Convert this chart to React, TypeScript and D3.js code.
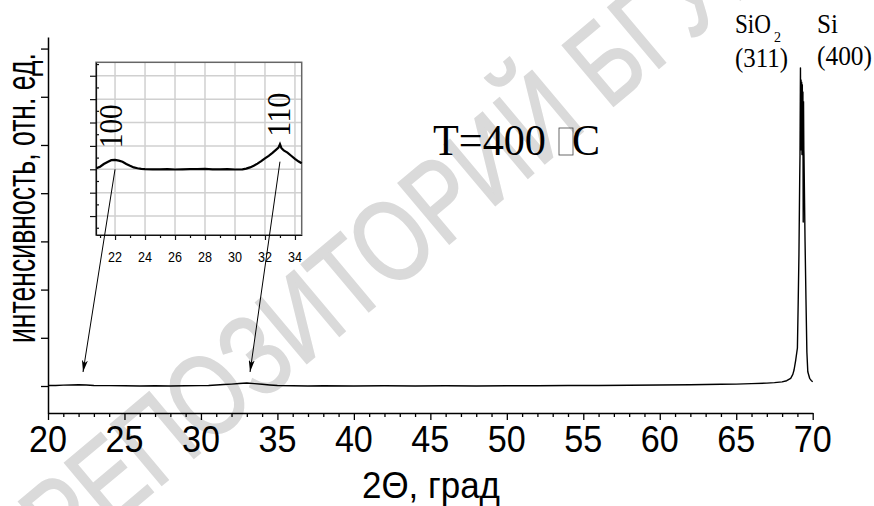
import React, { useEffect, useRef } from 'react';
import * as d3 from 'd3';

// XRD scan, 2θ (deg) vs counts
const scanAngles = [20, 20.5, 21, 21.5, 22, 22.5, 23, 24, 25, 26, 27, 28, 29, 30, 30.5, 31, 31.5, 32, 32.5, 33, 33.5, 34, 34.5, 35, 36, 37, 38, 40, 42, 44, 46, 48, 50, 52, 54, 56, 58, 60, 62, 64, 65, 66, 67, 67.5, 68, 68.3, 68.56, 68.7, 68.78, 68.89, 69.0, 69.05, 69.1, 69.15, 69.17, 69.2, 69.22, 69.24, 69.26, 69.28, 69.3, 69.32, 69.34, 69.36, 69.37, 69.38, 69.4, 69.42, 69.43, 69.5, 69.56, 69.62, 69.68, 69.8, 69.9, 70.0];
const scanCounts = [10, 12, 18, 22, 25, 20, 12, 8, 5, 0, 5, 0, 5, 8, 12, 20, 30, 40, 52, 62, 50, 35, 22, 12, 5, 0, 5, 0, 5, 0, 5, 0, 5, 5, 10, 10, 15, 20, 25, 35, 40, 50, 60, 70, 85, 110, 160, 240, 332, 539, 788, 1700, 2718, 4300, 4793, 6600, 4900, 6350, 5000, 6300, 4800, 6250, 5100, 6100, 4700, 3400, 5900, 4900, 4790, 3000, 1800, 700, 297, 160, 115, 89];

// inset: zoom of 21..34.5
const insetAngles = [20.75, 21, 21.25, 21.5, 21.75, 22, 22.25, 22.5, 22.75, 23, 23.25, 23.5, 23.75, 24, 24.5, 25, 25.5, 26, 26.5, 27, 27.5, 28, 28.5, 29, 29.5, 30, 30.5, 30.75, 31, 31.25, 31.5, 31.75, 32, 32.25, 32.5, 32.75, 32.9, 33, 33.1, 33.25, 33.5, 33.75, 34, 34.25, 34.45];
const insetCounts = [80.8, 82.2, 84.5, 86.3, 87.8, 88.0, 87.4, 86.5, 84.6, 83.0, 81.6, 80.9, 80.4, 80.2, 80.0, 79.9, 80.1, 79.8, 80.0, 80.2, 80.1, 80.3, 80.0, 79.9, 80.1, 79.8, 80.0, 80.6, 81.6, 83.0, 84.8, 87.0, 89.4, 91.5, 94.0, 96.8, 98.5, 101.4, 98.0, 96.2, 94.3, 91.6, 89.0, 86.6, 85.1];

const xTicks = [20, 25, 30, 35, 40, 45, 50, 55, 60, 65, 70];
const yTicks = [0, 1000, 2000, 3000, 4000, 5000, 6000, 7000];
const insetXTicks = [22, 24, 26, 28, 30, 32, 34];
const insetYTicks = [40, 60, 80, 100, 120, 140, 160];

const reflexNames = ['100', '110'];
const reflexInsetAngle = [22.44, 33.66];
const reflexInsetLevel = [98, 107.9];
// arrows: inset point -> main scan point
const arrowFrom = [[22, 80], [33, 86.5]];
const arrowTo = [[22.29, 290], [33.21, 290]];

const SANS = 'Liberation Sans, Arial, sans-serif';
const SERIF = 'Liberation Serif, Times New Roman, serif';

const XrdChart = () => {
  const svgRef = useRef<SVGSVGElement>(null);

  useEffect(() => {
    const svg = d3.select(svgRef.current);
    svg.selectAll('*').remove();

    // watermark behind everything
    svg.append('text')
      .attr('transform', 'translate(64,567) rotate(-40)')
      .attr('font-family', SANS)
      .attr('font-size', 115)
      .attr('fill', '#dadada')
      .attr('stroke', '#dadada')
      .attr('stroke-width', 2)
      .attr('textLength', 1000)
      .attr('lengthAdjust', 'spacingAndGlyphs')
      .text('РЕПОЗИТОРИЙ БГУИР');

    const x = d3.scaleLinear().domain([20, 70]).range([48, 812.7]);
    const y = d3.scaleLinear().domain([-560, 7240]).range([413, 37]);

    // axes
    const xAxis = svg.append('g')
      .attr('transform', `translate(0,${y(-560)})`)
      .call(d3.axisBottom(x).tickValues(xTicks).tickSize(7).tickSizeOuter(0).tickFormat(() => ''));
    svg.append('g')
      .attr('transform', `translate(0,${y(-560)})`)
      .call(d3.axisBottom(x).tickValues(d3.range(21, 70, 1).filter(v => v % 5 !== 0)).tickSize(4).tickFormat(() => ''))
      .select('.domain').remove();
    const yAxis = svg.append('g')
      .attr('transform', `translate(${x(20)},0)`)
      .call(d3.axisLeft(y).tickValues(yTicks).tickSize(7).tickSizeOuter(0).tickFormat(() => ''));
    svg.selectAll('.domain, .tick line').attr('stroke', '#000').attr('stroke-width', 1.3);
    xAxis.select('.domain').attr('stroke-width', 1.5);
    yAxis.select('.domain').attr('stroke-width', 1.5);

    svg.append('g').selectAll('text')
      .data(xTicks)
      .join('text')
      .attr('x', d => x(d))
      .attr('y', 451.7)
      .attr('text-anchor', 'middle')
      .attr('font-family', SANS)
      .attr('font-size', 37)
      .attr('textLength', 38)
      .attr('lengthAdjust', 'spacingAndGlyphs')
      .text(d => d);

    svg.append('text')
      .attr('x', 362)
      .attr('y', 498)
      .attr('font-family', SANS)
      .attr('font-size', 37)
      .attr('textLength', 138)
      .attr('lengthAdjust', 'spacingAndGlyphs')
      .text('2Θ, град');

    svg.append('text')
      .attr('transform', 'translate(34.5,198) rotate(-90)')
      .attr('text-anchor', 'middle')
      .attr('font-family', SANS)
      .attr('font-size', 40)
      .attr('textLength', 290)
      .attr('lengthAdjust', 'spacingAndGlyphs')
      .text('интенсивность, отн. ед.');

    // main scan line
    const scan = scanAngles.map((a, i) => [a, scanCounts[i]]);
    svg.append('path')
      .datum(scan)
      .attr('fill', 'none')
      .attr('stroke', '#000')
      .attr('stroke-width', 1.4)
      .attr('stroke-linejoin', 'round')
      .attr('d', d3.line().x(d => x(d[0])).y(d => y(d[1])));

    // inset
    const ix = d3.scaleLinear().domain([20.73, 34.45]).range([96, 301.7]);
    const iy = d3.scaleLinear().domain([23.8, 171.5]).range([235, 62.3]);
    const inset = svg.append('g');
    inset.append('rect')
      .attr('x', ix(20.73)).attr('y', iy(171.5))
      .attr('width', ix(34.45) - ix(20.73)).attr('height', iy(23.8) - iy(171.5))
      .attr('fill', '#fff');
    inset.append('g').selectAll('line')
      .data(insetXTicks)
      .join('line')
      .attr('x1', d => ix(d)).attr('x2', d => ix(d))
      .attr('y1', iy(171.5)).attr('y2', iy(23.8))
      .attr('stroke', '#d0d0d0').attr('stroke-width', 1.5);
    inset.append('g').selectAll('line')
      .data(insetYTicks)
      .join('line')
      .attr('x1', ix(20.73)).attr('x2', ix(34.45))
      .attr('y1', d => iy(d)).attr('y2', d => iy(d))
      .attr('stroke', '#d0d0d0').attr('stroke-width', 1.5);
    inset.append('rect')
      .attr('x', ix(20.73)).attr('y', iy(171.5))
      .attr('width', ix(34.45) - ix(20.73)).attr('height', iy(23.8) - iy(171.5))
      .attr('fill', 'none').attr('stroke', '#666').attr('stroke-width', 1.5);

    inset.append('g')
      .attr('transform', `translate(0,${iy(23.8)})`)
      .call(d3.axisBottom(ix).tickValues(insetXTicks).tickSize(5).tickSizeOuter(0).tickFormat(() => ''));
    inset.append('g')
      .attr('transform', `translate(0,${iy(23.8)})`)
      .call(d3.axisBottom(ix).tickValues([21, 23, 25, 27, 29, 31, 33]).tickSize(3).tickFormat(() => ''))
      .select('.domain').remove();
    inset.append('g')
      .attr('transform', `translate(${ix(20.73)},0)`)
      .call(d3.axisLeft(iy).tickValues(insetYTicks).tickSize(6).tickSizeOuter(0).tickFormat(() => ''));
    inset.append('g')
      .attr('transform', `translate(${ix(20.73)},0)`)
      .call(d3.axisRight(iy).tickValues([30, 50, 70, 90, 110, 130, 150, 170]).tickSize(3).tickFormat(() => ''))
      .select('.domain').remove();
    inset.selectAll('.domain, .tick line').attr('stroke', '#111').attr('stroke-width', 1.2);

    inset.append('g').selectAll('text')
      .data(insetXTicks)
      .join('text')
      .attr('x', d => ix(d))
      .attr('y', 262)
      .attr('text-anchor', 'middle')
      .attr('font-family', SANS)
      .attr('font-size', 14)
      .attr('textLength', 14)
      .attr('lengthAdjust', 'spacingAndGlyphs')
      .text(d => d);

    const zoomed = insetAngles.map((a, i) => [a, insetCounts[i]]);
    inset.append('path')
      .datum(zoomed)
      .attr('fill', 'none')
      .attr('stroke', '#000')
      .attr('stroke-width', 2.2)
      .attr('d', d3.line().x(d => ix(d[0])).y(d => iy(d[1])));

    reflexNames.forEach((name, i) => {
      inset.append('text')
        .attr('transform', `translate(${ix(reflexInsetAngle[i])},${iy(reflexInsetLevel[i])}) rotate(-90)`)
        .attr('font-family', SERIF)
        .attr('font-size', 33)
        .attr('textLength', 44)
        .attr('lengthAdjust', 'spacingAndGlyphs')
        .text(name);
    });

    // arrows from inset peaks to the scan
    const defs = svg.append('defs');
    defs.append('marker')
      .attr('id', 'arrowHead')
      .attr('viewBox', '0 0 12 6')
      .attr('refX', 12).attr('refY', 3)
      .attr('markerWidth', 12).attr('markerHeight', 6)
      .attr('markerUnits', 'userSpaceOnUse')
      .attr('orient', 'auto')
      .append('path')
      .attr('d', 'M0,0 L12,3 L0,6 L3,3 Z')
      .attr('fill', '#000');
    arrowFrom.forEach((from, i) => {
      svg.append('line')
        .attr('x1', ix(from[0])).attr('y1', iy(from[1]))
        .attr('x2', x(arrowTo[i][0])).attr('y2', y(arrowTo[i][1]))
        .attr('stroke', '#000').attr('stroke-width', 1)
        .attr('marker-end', 'url(#arrowHead)');
    });

    // temperature note
    svg.append('text')
      .attr('x', 433).attr('y', 155)
      .attr('font-family', SERIF)
      .attr('font-size', 45)
      .attr('textLength', 113)
      .attr('lengthAdjust', 'spacingAndGlyphs')
      .text('T=400');
    svg.append('rect')
      .attr('x', 559).attr('y', 128).attr('width', 14).attr('height', 27)
      .attr('fill', 'none').attr('stroke', '#444').attr('stroke-width', 0.8);
    svg.append('text')
      .attr('x', 572).attr('y', 155)
      .attr('font-family', SERIF)
      .attr('font-size', 45)
      .attr('textLength', 28)
      .attr('lengthAdjust', 'spacingAndGlyphs')
      .text('C');

    // peak names
    const serifText = (tx: number, ty: number, size: number, len: number, s: string) =>
      svg.append('text')
        .attr('x', tx).attr('y', ty)
        .attr('font-family', SERIF)
        .attr('font-size', size)
        .attr('textLength', len)
        .attr('lengthAdjust', 'spacingAndGlyphs')
        .text(s);
    serifText(735, 33, 27, 36, 'SiO');
    serifText(774, 42, 15, 7, '2');
    serifText(735, 66.7, 27, 53, '(311)');
    serifText(817, 33.3, 27, 21, 'Si');
    serifText(817, 65, 27, 55, '(400)');
  }, []);

  return <svg ref={svgRef} width={874} height={506} style={{ position: 'absolute', left: 0, top: 0, background: '#fff' }} />;
};

export default function App() {
  return <XrdChart />;
}
